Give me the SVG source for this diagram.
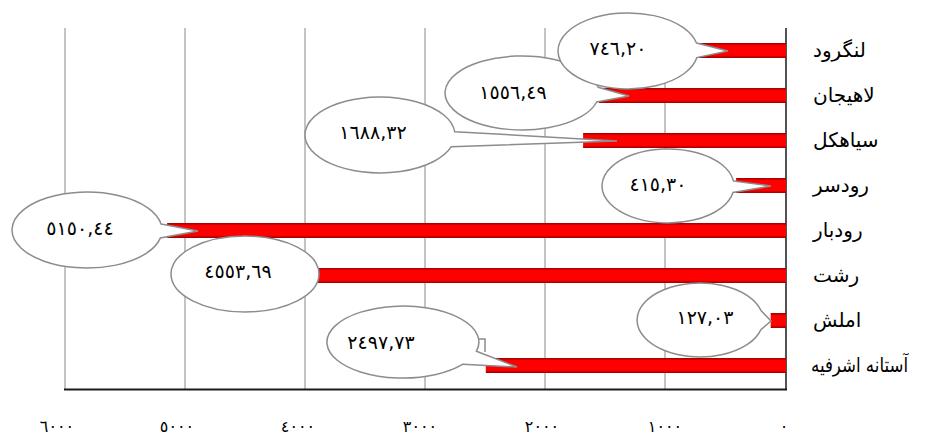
<svg xmlns="http://www.w3.org/2000/svg" width="929" height="437" viewBox="0 0 929 437">
<style>
.grid{stroke:#b0b0b0;stroke-width:1.5;fill:none}
.axis{stroke:#1a1a1a;fill:none}
.bar{fill:url(#barGrad)}
.call{fill:#ffffff;stroke:#8c8c8c;stroke-width:1.5}
.val{font-family:"DejaVu Sans",sans-serif;font-size:19px;fill:#000;text-anchor:middle}
.cat{font-family:"DejaVu Sans",sans-serif;font-size:20px;fill:#000}
.tick{font-family:"DejaVu Sans",sans-serif;font-size:16px;fill:#000;text-anchor:middle}
</style>
<defs>
<linearGradient id="barGrad" x1="0" y1="0" x2="0" y2="1">
<stop offset="0" stop-color="#9a0000"/>
<stop offset="0.18" stop-color="#ff0000"/>
<stop offset="0.82" stop-color="#ff0000"/>
<stop offset="1" stop-color="#9a0000"/>
</linearGradient>
</defs>
<rect width="929" height="437" fill="#ffffff"/>
<g id="grid">
<line class="grid" x1="65" y1="28" x2="65" y2="389"/>
<line class="grid" x1="185" y1="28" x2="185" y2="389"/>
<line class="grid" x1="305" y1="28" x2="305" y2="389"/>
<line class="grid" x1="425" y1="28" x2="425" y2="389"/>
<line class="grid" x1="545" y1="28" x2="545" y2="389"/>
<line class="grid" x1="665" y1="28" x2="665" y2="389"/>
</g>
<g id="axes">
<line class="axis" x1="786" y1="28" x2="786" y2="390" stroke-width="1.5"/>
<line class="axis" x1="64" y1="389.5" x2="787" y2="389.5" stroke-width="2"/>
</g>
<g id="ticks">
<text class="tick" x="57" y="432">٦٠٠٠</text>
<text class="tick" x="177" y="432">٥٠٠٠</text>
<text class="tick" x="298" y="432">٤٠٠٠</text>
<text class="tick" x="420" y="432">٣٠٠٠</text>
<text class="tick" x="542" y="432">٢٠٠٠</text>
<text class="tick" x="665" y="432">١٠٠٠</text>
<text class="tick" x="784" y="432">٠</text>
</g>
<g id="categories">
<text class="cat" x="813" y="57">لنگرود</text>
<text class="cat" x="813" y="102">لاهیجان</text>
<text class="cat" x="813" y="147">سیاهکل</text>
<text class="cat" x="813" y="192">رودسر</text>
<text class="cat" x="813" y="237">رودبار</text>
<text class="cat" x="813" y="282">رشت</text>
<text class="cat" x="813" y="327">املش</text>
<text class="cat" x="811" y="372" textLength="97" lengthAdjust="spacingAndGlyphs">آستانه اشرفیه</text>
</g>
<g id="bars">
<rect id="bar-langarud" class="bar" x="696.3" y="43" width="89.7" height="15"/>
<rect id="bar-lahijan" class="bar" x="598.9" y="88" width="187.1" height="15"/>
<rect id="bar-siahkal" class="bar" x="583.1" y="133" width="202.9" height="15"/>
<rect id="bar-rudsar" class="bar" x="736.1" y="178" width="49.9" height="15"/>
<rect id="bar-rudbar" class="bar" x="167.1" y="223" width="618.9" height="15"/>
<rect id="bar-rasht" class="bar" x="238.8" y="268" width="547.2" height="15"/>
<rect id="bar-amlash" class="bar" x="770.7" y="313" width="15.3" height="15"/>
<rect id="bar-astaneh" class="bar" x="485.8" y="358" width="300.2" height="15"/>
</g>
<g id="connectors">
<polyline class="call" points="476,339 485,339 485,352" style="fill:none"/>
</g>
<g id="callout-astaneh">
<path class="call" d="M476.4,351.3 L517,367 L462.9,364.2 A76,36 0 1 1 476.4,351.3 Z"/>
<text class="val" x="381" y="349">٢٤٩٧,٧٣</text>
</g>
<g id="callout-amlash">
<path class="call" d="M760.9,310.4 L771,321 L760.9,329.6 A63,37 0 1 1 760.9,310.4 Z"/>
<text class="val" x="705" y="324">١٢٧,٠٣</text>
</g>
<g id="callout-rasht">
<ellipse class="call" cx="245" cy="274" rx="74" ry="38"/>
<text class="val" x="238" y="278">٤٥٥٣,٦٩</text>
</g>
<g id="callout-rudbar">
<path class="call" d="M161.1,224.1 L198,231 L160.4,237.9 A75,38 0 1 1 161.1,224.1 Z"/>
<text class="val" x="80" y="235">٥١٥٠,٤٤</text>
</g>
<g id="callout-rudsar">
<path class="call" d="M733.4,180.9 L771,186 L733,192.4 A66,37 0 1 1 733.4,180.9 Z"/>
<text class="val" x="658" y="191">٤١٥,٣٠</text>
</g>
<g id="callout-siahkal">
<path class="call" d="M454.7,131.7 L617,141 L451.3,146.7 A75,38 0 1 1 454.7,131.7 Z"/>
<text class="val" x="373" y="139">١٦٨٨,٣٢</text>
</g>
<g id="callout-lahijan">
<path class="call" d="M598.1,87.2 L629,96 L596.7,102 A77,37 0 1 1 598.1,87.2 Z"/>
<text class="val" x="513" y="99">١٥٥٦,٤٩</text>
</g>
<g id="callout-langarud">
<path class="call" d="M696.5,43.1 L728,51 L696.9,57.6 A70,38 0 1 1 696.5,43.1 Z"/>
<text class="val" x="618" y="54.5">٧٤٦,٢٠</text>
</g>
</svg>
